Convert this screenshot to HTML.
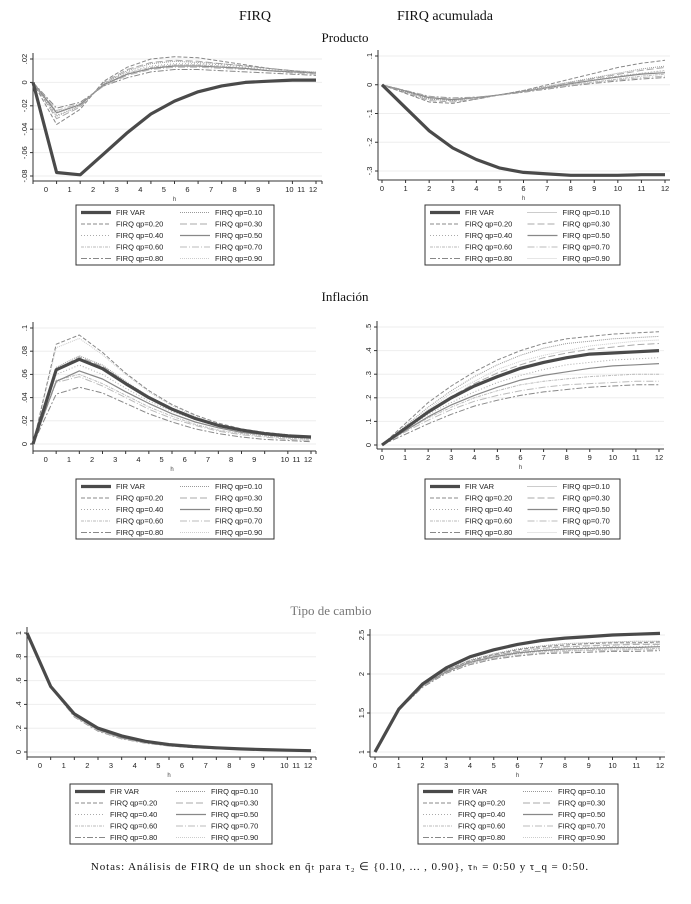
<!DOCTYPE html>
<html><head><meta charset="utf-8"><style>
body{margin:0;background:#fff}
svg{display:block}
text{font-family:"Liberation Sans",sans-serif}
.ser{font-family:"Liberation Serif",serif}
</style></head><body>
<svg id="fig" width="691" height="904" viewBox="0 0 691 904" xmlns="http://www.w3.org/2000/svg">
<text class="ser" x="255" y="20" font-size="14" text-anchor="middle" fill="#111">FIRQ</text>
<text class="ser" x="445" y="20" font-size="14" text-anchor="middle" fill="#111">FIRQ acumulada</text>
<text class="ser" x="345" y="42" font-size="13" text-anchor="middle" fill="#111">Producto</text>
<text class="ser" x="345" y="301" font-size="13" text-anchor="middle" fill="#111">Inflación</text>
<text class="ser" x="331" y="615" font-size="13" text-anchor="middle" fill="#777">Tipo de cambio</text>
<text class="ser" x="340" y="870" font-size="11" text-anchor="middle" fill="#111" letter-spacing="0.9">Notas: Análisis de FIRQ de un shock en q̃ₜ para τ₂ ∈ {0.10, ... , 0.90}, τₕ = 0:50 y τ_q = 0:50.</text>
</svg>
<script>
const horizons=[0,1,2,3,4,5,6,7,8,9,10,11,12];
const seriesNames=["VAR","q10","q20","q30","q40","q50","q60","q70","q80","q90"];
// Panel 1: Producto FIRQ
const p1VAR=[0,-.077,-.079,-.061,-.043,-.027,-.016,-.008,-.003,0,.001,.002,.002];
const p1q10=[0,-.029,-.02,-.001,.01,.016,.018,.017,.016,.014,.012,.01,.009];
const p1q20=[0,-.036,-.023,.001,.013,.02,.022,.021,.018,.015,.012,.01,.008];
const p1q30=[0,-.031,-.021,0,.011,.017,.019,.018,.016,.014,.012,.01,.008];
const p1q40=[0,-.028,-.02,-.001,.009,.014,.016,.016,.015,.013,.011,.009,.008];
const p1q50=[0,-.026,-.019,-.002,.007,.012,.014,.014,.013,.012,.01,.009,.008];
const p1q60=[0,-.026,-.019,-.002,.008,.013,.015,.015,.014,.012,.01,.009,.008];
const p1q70=[0,-.024,-.018,-.003,.006,.011,.013,.013,.012,.011,.01,.008,.007];
const p1q80=[0,-.022,-.017,-.003,.004,.009,.011,.011,.01,.009,.008,.007,.006];
const p1q90=[0,-.025,-.019,-.002,.007,.012,.014,.014,.013,.012,.01,.009,.008];
const p1Ticks=[.02,0,-.02,-.04,-.06,-.08];
const p1TickLabels=[".02","0","-.02","-.04","-.06","-.08"];
// Panel 2: Producto FIRQ acumulada
const p2VAR=[0,-.08,-.16,-.22,-.26,-.29,-.305,-.31,-.315,-.315,-.315,-.313,-.313];
const p2q10=[0,-.025,-.05,-.055,-.045,-.035,-.02,-.005,.01,.025,.04,.055,.065];
const p2q20=[0,-.03,-.06,-.065,-.05,-.035,-.02,0,.02,.04,.06,.075,.085];
const p2q30=[0,-.028,-.055,-.06,-.05,-.035,-.022,-.008,.008,.022,.036,.05,.06];
const p2q40=[0,-.025,-.05,-.055,-.045,-.035,-.022,-.01,.005,.018,.03,.04,.05];
const p2q50=[0,-.022,-.045,-.052,-.045,-.035,-.023,-.01,.004,.016,.027,.037,.042];
const p2q60=[0,-.022,-.045,-.05,-.044,-.035,-.024,-.012,0,.01,.02,.03,.037];
const p2q70=[0,-.02,-.042,-.048,-.044,-.036,-.025,-.013,-.002,.008,.017,.025,.03];
const p2q80=[0,-.02,-.04,-.046,-.043,-.036,-.026,-.015,-.004,.005,.013,.02,.025];
const p2q90=[0,-.024,-.05,-.056,-.046,-.035,-.022,-.01,.005,.018,.03,.04,.048];
const p2Ticks=[.1,0,-.1,-.2,-.3];
const p2TickLabels=[".1","0","-.1","-.2","-.3"];
// Panel 3: Inflacion FIRQ
const p3VAR=[0,.064,.073,.065,.052,.04,.03,.022,.016,.012,.009,.007,.006];
const p3q10=[0,.066,.076,.068,.054,.041,.031,.023,.017,.012,.009,.007,.006];
const p3q20=[0,.086,.094,.079,.061,.046,.034,.025,.018,.013,.01,.008,.006];
const p3q30=[0,.064,.075,.067,.053,.041,.031,.023,.017,.012,.009,.007,.006];
const p3q40=[0,.06,.068,.06,.048,.037,.028,.021,.015,.011,.008,.006,.005];
const p3q50=[0,.054,.063,.056,.045,.035,.026,.019,.014,.01,.008,.006,.005];
const p3q60=[0,.055,.06,.052,.042,.032,.024,.017,.012,.009,.007,.005,.004];
const p3q70=[0,.053,.058,.05,.04,.03,.022,.016,.011,.008,.006,.004,.003];
const p3q80=[0,.043,.049,.044,.035,.026,.019,.013,.009,.006,.004,.003,.002];
const p3q90=[0,.083,.091,.077,.06,.045,.033,.024,.017,.012,.009,.007,.005];
const p3Ticks=[.1,.08,.06,.04,.02,0];
const p3TickLabels=[".1",".08",".06",".04",".02","0"];
// Panel 4: Inflacion FIRQ acumulada
const p4VAR=[0,.07,.14,.2,.25,.29,.325,.35,.37,.385,.39,.395,.4];
const p4q10=[0,.08,.16,.23,.29,.34,.38,.41,.43,.44,.45,.455,.46];
const p4q20=[0,.09,.18,.25,.31,.36,.4,.43,.45,.46,.47,.475,.48];
const p4q30=[0,.075,.145,.205,.26,.305,.34,.37,.39,.405,.415,.425,.43];
const p4q40=[0,.065,.13,.18,.225,.265,.295,.32,.34,.35,.36,.365,.37];
const p4q50=[0,.06,.12,.17,.21,.245,.275,.295,.31,.325,.335,.34,.345];
const p4q60=[0,.06,.115,.16,.2,.23,.255,.27,.28,.29,.295,.3,.3];
const p4q70=[0,.055,.105,.15,.185,.21,.23,.245,.255,.26,.265,.27,.27];
const p4q80=[0,.045,.09,.13,.165,.19,.21,.225,.235,.245,.25,.255,.255];
const p4q90=[0,.075,.15,.22,.27,.32,.355,.38,.4,.42,.43,.44,.445];
const p4Ticks=[.5,.4,.3,.2,.1,0];
const p4TickLabels=[".5",".4",".3",".2",".1","0"];
// Panel 5: Tipo de cambio FIRQ
const p5VAR=[1,.55,.32,.2,.135,.09,.062,.046,.035,.026,.02,.015,.011];
const p5q10=[1,.55,.31,.19,.125,.085,.058,.043,.032,.024,.018,.014,.01];
const p5q20=[1,.55,.31,.19,.12,.082,.056,.041,.03,.023,.017,.013,.01];
const p5q30=[1,.55,.31,.19,.122,.083,.057,.042,.031,.023,.018,.013,.01];
const p5q40=[1,.55,.305,.185,.118,.08,.055,.04,.03,.022,.017,.012,.009];
const p5q50=[1,.55,.31,.19,.12,.082,.056,.041,.03,.023,.017,.013,.01];
const p5q60=[1,.55,.3,.18,.115,.078,.053,.039,.029,.021,.016,.012,.009];
const p5q70=[1,.545,.3,.18,.113,.076,.052,.038,.028,.021,.016,.012,.009];
const p5q80=[1,.545,.295,.175,.11,.074,.05,.037,.027,.02,.015,.011,.008];
const p5q90=[1,.55,.31,.19,.12,.082,.056,.041,.03,.023,.017,.013,.01];
const p5Ticks=[1,.8,.6,.4,.2,0];
const p5TickLabels=["1",".8",".6",".4",".2","0"];
// Panel 6: Tipo de cambio FIRQ acumulada
const p6VAR=[1,1.55,1.87,2.08,2.22,2.31,2.38,2.43,2.46,2.48,2.5,2.51,2.52];
const p6q10=[1,1.55,1.86,2.05,2.18,2.26,2.32,2.36,2.39,2.4,2.41,2.42,2.42];
const p6q20=[1,1.55,1.86,2.05,2.17,2.25,2.31,2.35,2.37,2.39,2.4,2.4,2.41];
const p6q30=[1,1.55,1.85,2.04,2.16,2.24,2.29,2.33,2.35,2.36,2.37,2.38,2.38];
const p6q40=[1,1.55,1.85,2.04,2.15,2.23,2.28,2.31,2.33,2.34,2.35,2.35,2.36];
const p6q50=[1,1.55,1.85,2.03,2.15,2.22,2.27,2.3,2.32,2.33,2.34,2.34,2.35];
const p6q60=[1,1.55,1.84,2.03,2.14,2.21,2.26,2.29,2.3,2.31,2.32,2.32,2.33];
const p6q70=[1,1.54,1.84,2.02,2.13,2.2,2.24,2.27,2.29,2.3,2.3,2.31,2.31];
const p6q80=[1,1.54,1.83,2.01,2.12,2.19,2.23,2.26,2.27,2.28,2.29,2.29,2.3];
const p6q90=[1,1.55,1.85,2.04,2.16,2.24,2.29,2.33,2.35,2.37,2.38,2.39,2.39];
const p6Ticks=[2.5,2,1.5,1];
const p6TickLabels=["2.5","2","1.5","1"];
const legendLabels=["FIR VAR","FIRQ  qp=0.10","FIRQ qp=0.20","FIRQ  qp=0.30","FIRQ qp=0.40","FIRQ  qp=0.50","FIRQ qp=0.60","FIRQ  qp=0.70","FIRQ qp=0.80","FIRQ qp=0.90"];

const NS="http://www.w3.org/2000/svg";
const svg=document.getElementById('fig');
const styles=[
 {c:"#4a4a4a",w:3.2,d:""},
 {c:"#999",w:1,d:"1,1"},
 {c:"#888",w:1,d:"4,2"},
 {c:"#aaa",w:1,d:"7,3"},
 {c:"#aaa",w:1,d:"1,2"},
 {c:"#888",w:1.2,d:""},
 {c:"#bbb",w:1,d:"3,1,1,1"},
 {c:"#bbb",w:1,d:"7,2,1,2"},
 {c:"#888",w:1,d:"6,2,2,2"},
 {c:"#ccc",w:1,d:"1,1"}];
function el(tag,attrs,parent){const e=document.createElementNS(NS,tag);for(const k in attrs)e.setAttribute(k,attrs[k]);(parent||svg).appendChild(e);return e;}

const panels=[
 {id:"producto-firq",data:[p1VAR,p1q10,p1q20,p1q30,p1q40,p1q50,p1q60,p1q70,p1q80,p1q90],ticks:p1Ticks,labels:p1TickLabels,ax:33,x0:33,x12:316,right:322,v1:.02,py1:59,v2:-.08,py2:176,axisY:181,mode:"mid",leg:[76,205,198]},
 {id:"producto-acum",data:[p2VAR,p2q10,p2q20,p2q30,p2q40,p2q50,p2q60,p2q70,p2q80,p2q90],ticks:p2Ticks,labels:p2TickLabels,ax:378,x0:382,x12:665,right:670,v1:.1,py1:56,v2:-.3,py2:171,axisY:180,mode:"at",leg:[425,205,195]},
 {id:"inflacion-firq",data:[p3VAR,p3q10,p3q20,p3q30,p3q40,p3q50,p3q60,p3q70,p3q80,p3q90],ticks:p3Ticks,labels:p3TickLabels,ax:33,x0:33,x12:311,right:316,v1:.1,py1:328,v2:0,py2:444,axisY:451,mode:"mid",leg:[76,479,198]},
 {id:"inflacion-acum",data:[p4VAR,p4q10,p4q20,p4q30,p4q40,p4q50,p4q60,p4q70,p4q80,p4q90],ticks:p4Ticks,labels:p4TickLabels,ax:377,x0:382,x12:659,right:664,v1:.5,py1:327,v2:0,py2:445,axisY:449,mode:"at",leg:[425,479,195]},
 {id:"tipo-cambio-firq",data:[p5VAR,p5q10,p5q20,p5q30,p5q40,p5q50,p5q60,p5q70,p5q80,p5q90],ticks:p5Ticks,labels:p5TickLabels,ax:27,x0:27,x12:311,right:316,v1:1,py1:633,v2:0,py2:752,axisY:757,mode:"mid",leg:[70,784,202]},
 {id:"tipo-cambio-acum",data:[p6VAR,p6q10,p6q20,p6q30,p6q40,p6q50,p6q60,p6q70,p6q80,p6q90],ticks:p6Ticks,labels:p6TickLabels,ax:370,x0:375,x12:660,right:665,v1:2.5,py1:635,v2:1,py2:752,axisY:757,mode:"at",leg:[418,784,200]}
];

panels.forEach(p=>{
  const g=el('g',{});
  
  
  const xs=h=>p.x0+(p.x12-p.x0)*h/12;
  const ys=v=>p.py1+(v-p.v1)*(p.py2-p.py1)/(p.v2-p.v1);
  p.ticks.forEach((t,i)=>{
    const y=ys(t);
    const gl=el('line',{x1:p.ax,x2:p.right,y1:y,y2:y,stroke:"#eee","stroke-width":1},g);
    
    
    el('line',{x1:p.ax-3,x2:p.ax,y1:y,y2:y,stroke:"#333","stroke-width":1},g);
    const tx=el('text',{x:0,y:0,"font-size":7.5,"text-anchor":"middle",fill:"#222",transform:`translate(${p.ax-6},${y}) rotate(-90)`},g);
    tx.textContent=p.labels[i];
    
    
  });
  const ya=el('line',{x1:p.ax,x2:p.ax,y1:ys(p.ticks[0])-6,y2:p.axisY,stroke:"#333","stroke-width":1},g);
  
  
  const xa=el('line',{x1:p.ax,x2:p.right,y1:p.axisY,y2:p.axisY,stroke:"#333","stroke-width":1},g);
  
  
  horizons.forEach(h=>{
    const x=xs(h);
    el('line',{x1:x,x2:x,y1:p.axisY,y2:p.axisY+3,stroke:"#333","stroke-width":1},g);
    let lx;
    if(p.mode==="at") lx=x;
    else if(h<=9) lx=xs(h+0.55);
    else lx=xs(11+(h-10)*0.5)-3;
    const tx=el('text',{x:lx,y:p.axisY+11,"font-size":7.5,"text-anchor":"middle",fill:"#222"},g);
    tx.textContent=String(h);
    
    
  });
  if(p.mode==="mid") el('line',{x1:p.right,x2:p.right,y1:p.axisY,y2:p.axisY+3,stroke:"#333"},g);
  const ht=el('text',{x:(p.x0+p.x12)/2,y:p.axisY+20,"font-size":6,"text-anchor":"middle",fill:"#444"},g);
  ht.textContent="h";
  
  
  const order=[9,8,7,6,5,4,3,2,1,0];
  order.forEach(si=>{
    const arr=p.data[si];const s=styles[si];
    const pts=arr.map((v,h)=>xs(h).toFixed(1)+","+ys(v).toFixed(1)).join(" ");
    const pl=el('polyline',{points:pts,fill:"none",stroke:s.c,"stroke-width":s.w,"stroke-dasharray":s.d,"stroke-linejoin":"round"},g);
    
    
  });
  const [lx,ly,lw]=p.leg;
  const lg=el('g',{},g);
  
  
  el('rect',{x:lx,y:ly,width:lw,height:60,fill:"#fff",stroke:"#333","stroke-width":1},lg);
  legendLabels.forEach((lab,i)=>{
    const col=i%2,row=Math.floor(i/2);
    const bx=lx+5+col*(lw*0.5);
    const by=ly+7.5+row*11.5;
    const s=styles[i];
    el('line',{x1:bx,x2:bx+30,y1:by,y2:by,stroke:s.c,"stroke-width":s.w,"stroke-dasharray":s.d},lg);
    const t=el('text',{x:bx+35,y:by+2.6,"font-size":7.5,fill:"#222"},lg);
    t.textContent=lab;
    
    
  });
});
</script>
</body></html>
